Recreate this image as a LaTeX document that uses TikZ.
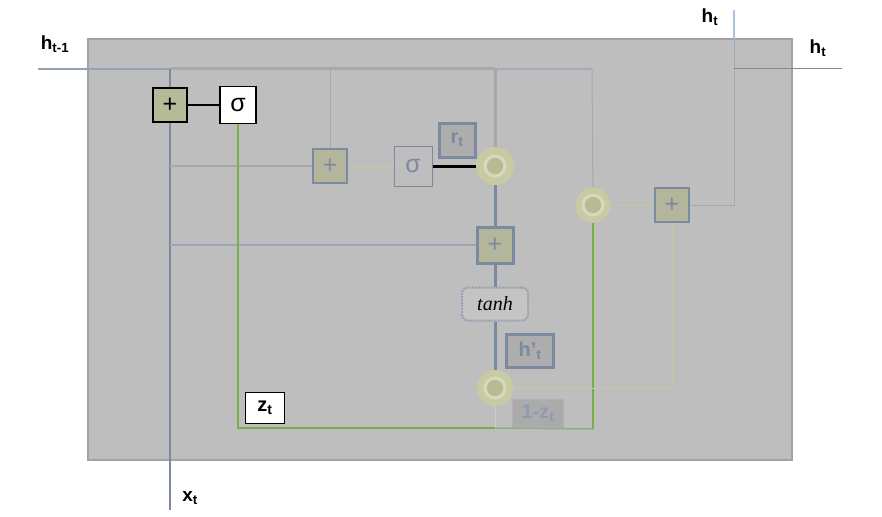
\documentclass[tikz,border=0pt]{standalone}
\usepackage{fontspec}
\setmainfont{Liberation Sans}
\newfontfamily\tanhfont{Liberation Serif}
\usetikzlibrary{positioning}
\definecolor{cellgray}{HTML}{BEBEBE}
\definecolor{cellrim}{HTML}{A2A2A2}
\definecolor{slate}{HTML}{7B89A1}
\definecolor{wiregray}{HTML}{A3A9AD}
\definecolor{olive}{HTML}{B7BA96}
\definecolor{fadeolive}{HTML}{B4B69C}
\definecolor{paleolive}{HTML}{C8CAA2}
\definecolor{coreolive}{HTML}{B8BB92}
\definecolor{ringolive}{HTML}{D6D8C0}
\definecolor{gatewire}{HTML}{C6C99C}
\definecolor{zgreen}{HTML}{76B046}
\definecolor{skyline}{HTML}{A9C3DF}

\begin{document}
\begin{tikzpicture}[x=1pt,y=-1pt,on grid,
    font=\fontsize{25}{28}\selectfont,
    lbl/.style={font=\fontsize{19}{22}\selectfont\bfseries},
    addbox/.style={draw=slate, line width=1.2pt, fill=fadeolive, text=slate,
      minimum size=34pt, inner sep=0pt},
    sigbox/.style={draw=black, line width=1.2pt, fill=white,
      minimum width=36pt, minimum height=37pt, inner sep=0pt},
    tagbox/.style={draw=slate, line width=3pt, fill=black!32, text=slate,
      font=\fontsize{20}{23}\selectfont\bfseries, inner sep=0pt},
    gate/.style={circle, fill=paleolive, minimum size=#1, inner sep=0pt,
      path picture={
        \fill[coreolive] (path picture bounding box.center) circle (8pt);
        \draw[ringolive, line width=3pt] (path picture bounding box.center) circle (10pt);}},
    gate/.default=38pt,
    wire/.style={draw=wiregray, line width=1pt},
    bus/.style={draw=slate, line width=3pt},
    pale/.style={draw=gatewire, line width=1pt},
    zline/.style={draw=zgreen, line width=2pt}]
  \useasboundingbox (0,0) rectangle (882,516);
  \draw[cellrim, fill=cellgray, line width=1.2pt] (88,39) rectangle (792,460);

  \coordinate (hin) at (38,69);
  \coordinate (xin) at (170,510);
  \coordinate (xtop) at (170,69);
  \coordinate (hjoin) at (734,69);
  \coordinate (hedge) at (734,39);
  \coordinate (hup) at (734,10);
  \coordinate (hout) at (842,69);

  \node[addbox, fill=olive, draw=black, text=black] (add1) at (170,105) {+};
  \node[sigbox, right=68pt of add1] (sig1) {σ};
  \node[addbox] (add2) at (330,166) {+};
  \node[sigbox, draw=slate, line width=1pt, fill=none, text=slate,
        minimum width=38pt, minimum height=40pt, right=83pt of add2] (sig2) {σ};
  \node[gate, right=82pt of sig2] (mulr) {};
  \node[tagbox, minimum width=36pt, minimum height=34pt] (rt) at (457,140) {r\textsubscript{t}};
  \node[addbox, line width=3pt, minimum size=36pt, below=79pt of mulr] (add3) {+};
  \node[draw=slate!80, densely dotted, line width=2pt, rounded corners=6pt, fill=black!23,
        font=\fontsize{20}{23}\tanhfont\itshape, text=black,
        minimum width=66pt, minimum height=33pt, below=59pt of add3] (tanh) {tanh};
  \node[gate=36pt, below=84pt of tanh] (mulz) {};
  \node[tagbox, minimum width=47pt, minimum height=33pt] (hcand) at (530,351) {h'\textsubscript{t}};
  \node[tagbox, draw=black!30, line width=0.6pt, text=slate!85, fill=black!33,
        minimum width=51pt, minimum height=28pt] (onez) at (538,413) {1-z\textsubscript{t}};
  \node[gate=35pt] (mulo) at (593,205) {};
  \node[addbox] (add4) at (672,205) {+};
  \node[sigbox, line width=1.5pt, font=\fontsize{20}{23}\selectfont\bfseries,
        minimum width=39pt, minimum height=31pt] (zt) at (265,408) {z\textsubscript{t}};

  \node[lbl] at (55,44) {h\textsubscript{t-1}};
  \node[lbl] at (190,498) {x\textsubscript{t}};
  \node[lbl] at (710,17) {h\textsubscript{t}};
  \node[lbl] at (818,48) {h\textsubscript{t}};

  \draw[draw=slate!80, line width=2pt] (hin) -- (xtop);
  \draw[wire, line width=3pt] (xtop) -- (495,69);
  \draw[draw=slate!70, line width=1.5pt] (495,69) -- (592,69);
  \draw[wire] (592,69) -- (mulo);
  \draw[wire] (330,69) -- (add2);
  \draw[wire, line width=3pt] (495,69) -- (mulr);
  \draw[draw=slate, line width=2.5pt] (xin) -- (add1) -- (xtop);
  \draw[wire, line width=1.5pt] (170,166) -- (add2);
  \draw[draw=slate!75, line width=2pt] (170,245) -- (add3);
  \draw[line width=1.5pt] (add1) -- (sig1);
  \draw[zline] (sig1) |- (495,428);
  \draw[draw=zgreen!45!wiregray, line width=1.5pt] (495,428) -- (593,429);
  \draw[zline] (593,429) -- (mulo);
  \draw[pale] (add2) -- (sig2);
  \draw[line width=3pt] (sig2) -- (mulr);
  \draw[bus] (mulr) -- (add3);
  \draw[bus] (add3) -- (tanh);
  \draw[bus] (tanh) -- (mulz);
  \draw[wire, draw=wiregray!60] (mulz) -- (495,428);
  \draw[pale] (mulz) -| (add4);
  \draw[pale] (mulo) -- (add4);
  \draw[wire] (add4) -| (hjoin) -- (hedge);
  \draw[draw=skyline, line width=1.5pt] (hedge) -- (hup);
  \draw[draw=slate, line width=1pt] (hjoin) -- (hout);
\end{tikzpicture}
\end{document}
